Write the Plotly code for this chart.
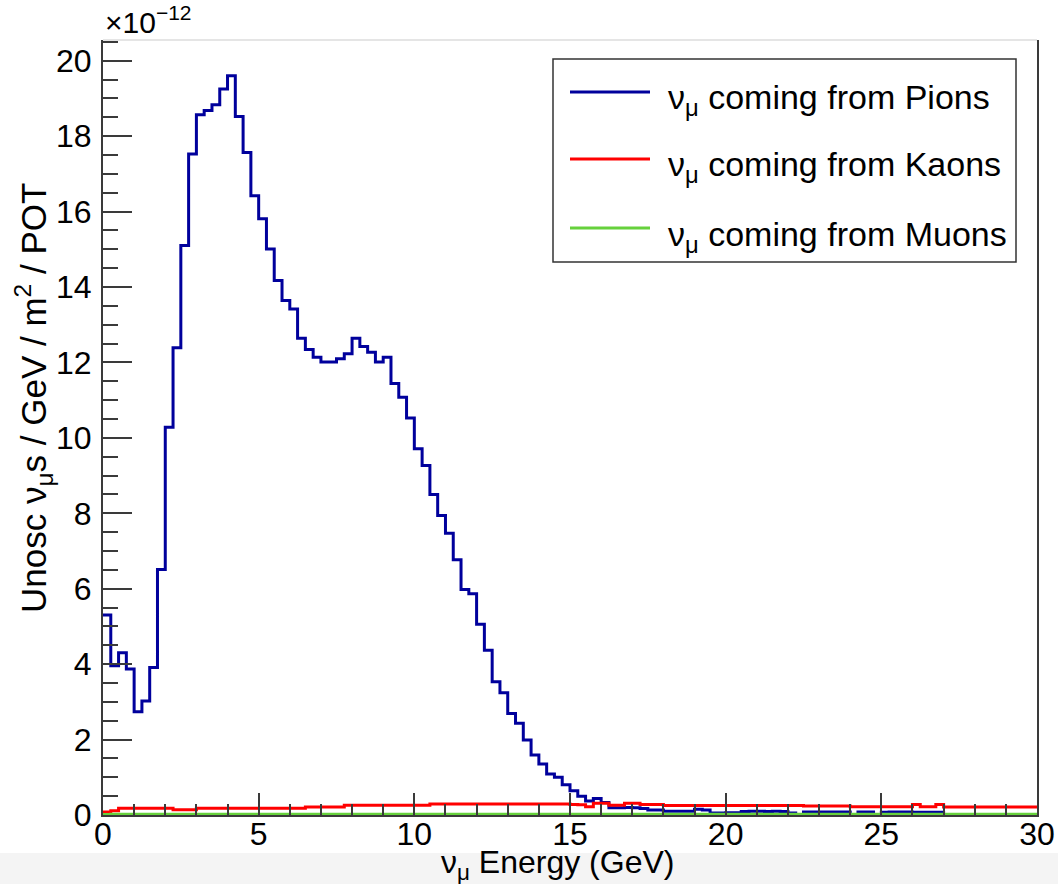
import plotly.graph_objects as go

# ---------------- data ----------------
bin_width = 0.25
n_bins = 120
bin_edges = [i * bin_width for i in range(n_bins + 1)]

pions = [
    5.30, 3.96, 4.30, 3.87, 2.74, 3.02, 3.91, 6.51, 10.28, 12.39,
    15.10, 17.53, 18.57, 18.68, 18.83, 19.25, 19.60, 18.52, 17.57, 16.42,
    15.81, 15.01, 14.17, 13.64, 13.42, 12.64, 12.34, 12.14, 12.01, 12.01,
    12.10, 12.23, 12.64, 12.42, 12.27, 12.01, 12.14, 11.44, 11.08, 10.53,
    9.71, 9.27, 8.50, 7.94, 7.47, 6.77, 5.98, 5.87, 5.06, 4.37,
    3.53, 3.24, 2.69, 2.43, 1.99, 1.59, 1.35, 1.09, 1.00, 0.80,
    0.64, 0.50, 0.37, 0.44, 0.33, 0.19, 0.19, 0.20, 0.19, 0.17,
    0.13, 0.13, 0.10, 0.10, 0.10, 0.10, 0.15, 0.13, 0.05, 0.05,
    0.06, 0.06, 0.09, 0.10, 0.10, 0.09, 0.10, 0.09, 0.05, 0.00,
    0.08, 0.08, 0.08, 0.08, 0.08, 0.08, 0.00, 0.08, 0.08, 0.00,
    0.07, 0.08, 0.08, 0.08, 0.07, 0.07, 0.07, 0.07, 0.00, 0.00,
    0.00, 0.00, 0.00, 0.00, 0.00, 0.00, 0.00, 0.00, 0.00, 0.00,
]

kaons = [
    0.08, 0.11, 0.18, 0.18, 0.18, 0.18, 0.18, 0.18, 0.18, 0.14,
    0.14, 0.14, 0.18, 0.18, 0.18, 0.18, 0.18, 0.18, 0.18, 0.18,
    0.18, 0.18, 0.18, 0.18, 0.18, 0.18, 0.21, 0.21, 0.21, 0.21,
    0.21, 0.26, 0.26, 0.26, 0.26, 0.26, 0.26, 0.26, 0.26, 0.26,
    0.26, 0.26, 0.29, 0.29, 0.29, 0.29, 0.29, 0.29, 0.29, 0.29,
    0.29, 0.29, 0.29, 0.29, 0.29, 0.29, 0.29, 0.29, 0.29, 0.29,
    0.28, 0.27, 0.22, 0.31, 0.31, 0.26, 0.26, 0.31, 0.31, 0.28,
    0.28, 0.28, 0.25, 0.25, 0.25, 0.25, 0.25, 0.25, 0.25, 0.25,
    0.25, 0.25, 0.25, 0.25, 0.25, 0.25, 0.25, 0.25, 0.25, 0.25,
    0.24, 0.24, 0.24, 0.24, 0.24, 0.24, 0.22, 0.22, 0.22, 0.22,
    0.22, 0.22, 0.22, 0.22, 0.28, 0.22, 0.22, 0.28, 0.21, 0.21,
    0.21, 0.21, 0.21, 0.21, 0.21, 0.21, 0.21, 0.21, 0.21, 0.21,
]

muons = [
    0.01, 0.02, 0.02, 0.02, 0.02, 0.02, 0.02, 0.02, 0.02, 0.02,
    0.02, 0.02, 0.02, 0.02, 0.02, 0.02, 0.02, 0.02, 0.02, 0.02,
    0.02, 0.02, 0.02, 0.02, 0.02, 0.02, 0.02, 0.02, 0.02, 0.02,
    0.02, 0.02, 0.02, 0.02, 0.02, 0.02, 0.02, 0.02, 0.02, 0.02,
    0.02, 0.02, 0.02, 0.02, 0.02, 0.02, 0.02, 0.02, 0.02, 0.02,
    0.02, 0.02, 0.02, 0.02, 0.02, 0.02, 0.02, 0.02, 0.02, 0.02,
    0.02, 0.02, 0.02, 0.02, 0.02, 0.02, 0.02, 0.02, 0.02, 0.02,
    0.02, 0.02, 0.02, 0.02, 0.02, 0.02, 0.02, 0.02, 0.02, 0.02,
    0.02, 0.02, 0.02, 0.02, 0.02, 0.02, 0.02, 0.02, 0.02, 0.02,
    0.02, 0.02, 0.02, 0.02, 0.02, 0.02, 0.02, 0.02, 0.02, 0.02,
    0.02, 0.02, 0.02, 0.02, 0.02, 0.02, 0.02, 0.02, 0.02, 0.02,
    0.02, 0.02, 0.02, 0.02, 0.02, 0.02, 0.02, 0.02, 0.02, 0.02,
]

series_names = [
    "ν<sub>μ</sub> coming from Pions",
    "ν<sub>μ</sub> coming from Kaons",
    "ν<sub>μ</sub> coming from Muons",
]
series_colors = ["#00009c", "#ff0000", "#66d13c"]
series_values = [pions, kaons, muons]

x_title = "ν<sub>μ</sub> Energy (GeV)"
y_title = "Unosc ν<sub>μ</sub>s / GeV / m<sup>2</sup> / POT"
exponent_label = "×10<sup>−12</sup>"

FONT = "Liberation Sans, Arial, Helvetica, sans-serif"

# ---------------- figure ----------------
W, H = 1058, 884
L, R, T, B = 103, 21, 40, 69
pw, ph = W - L - R, H - T - B


def px_x(p):
    return (p - L) / pw


def px_y(p):
    return (H - B - p) / ph


fig = go.Figure()
for name, color, vals in zip(series_names, series_colors, series_values):
    fig.add_trace(go.Scatter(
        x=bin_edges,
        y=vals + [vals[-1]],
        mode="lines",
        line=dict(color=color, width=3, shape="hv"),
        name=name,
        showlegend=False,
        hoverinfo="skip",
    ))

axis_color = "#3a3a3a"
fig.update_layout(
    width=W, height=H,
    margin=dict(l=L, r=R, t=T, b=B, autoexpand=False),
    paper_bgcolor="white",
    plot_bgcolor="white",
    font=dict(family=FONT, color="black", size=32),
    xaxis=dict(
        range=[0, 30],
        tickvals=[0, 5, 10, 15, 20, 25, 30],
        ticks="inside", ticklen=22, tickwidth=1.5, tickcolor=axis_color,
        minor=dict(dtick=1, ticks="inside", ticklen=11, tickwidth=1.5, tickcolor=axis_color),
        showline=True, linecolor=axis_color, linewidth=2, mirror=False,
        showgrid=False, zeroline=False,
        tickfont=dict(size=32),
        ticklabelstandoff=-10,
        automargin=False,
    ),
    yaxis=dict(
        range=[0, 20.55],
        tickvals=[0, 2, 4, 6, 8, 10, 12, 14, 16, 18, 20],
        ticks="inside", ticklen=29, tickwidth=1.5, tickcolor=axis_color,
        minor=dict(dtick=0.5, ticks="inside", ticklen=15, tickwidth=1.5, tickcolor=axis_color),
        showline=True, linecolor=axis_color, linewidth=2, mirror=True,
        showgrid=False, zeroline=False,
        tickfont=dict(size=32),
        ticklabelstandoff=3,
        automargin=False,
    ),
)

shapes = []
# faint top frame line
shapes.append(dict(type="line", xref="paper", yref="paper", x0=0, x1=1, y0=1, y1=1,
                   line=dict(color="#dcdcdc", width=1.5)))
# light grey band at the very bottom of the picture
shapes.append(dict(type="rect", xref="paper", yref="paper", layer="below",
                   x0=px_x(0), x1=px_x(W), y0=px_y(H), y1=px_y(853),
                   fillcolor="#f4f4f4", line=dict(width=0)))

# legend box (ROOT TLegend style)
lx0, lx1, ly0, ly1 = 553, 1016, 59, 262
shapes.append(dict(type="rect", xref="paper", yref="paper",
                   x0=px_x(lx0), x1=px_x(lx1), y0=px_y(ly1), y1=px_y(ly0),
                   fillcolor="white", line=dict(color="#333333", width=1.5)))
entry_y = [92, 159, 228]
annotations = []
for name, color, ey in zip(series_names, series_colors, entry_y):
    shapes.append(dict(type="line", xref="paper", yref="paper",
                       x0=px_x(570), x1=px_x(650), y0=px_y(ey), y1=px_y(ey),
                       line=dict(color=color, width=3)))
    annotations.append(dict(xref="paper", yref="paper", x=px_x(666), y=px_y(ey + 8),
                            text=name, showarrow=False, xanchor="left", yanchor="middle",
                            font=dict(size=34, family=FONT, color="black")))

# multiplier of the y axis
annotations.append(dict(xref="paper", yref="paper", x=px_x(103), y=px_y(20),
                        text=exponent_label, showarrow=False, xanchor="left", yanchor="middle",
                        font=dict(size=30, family=FONT, color="black")))
# axis titles
annotations.append(dict(xref="paper", yref="paper", x=px_x(557), y=px_y(864),
                        text=x_title, showarrow=False, xanchor="center", yanchor="middle",
                        font=dict(size=32, family=FONT, color="black")))
annotations.append(dict(xref="paper", yref="paper", x=px_x(33), y=px_y(398),
                        text=y_title, showarrow=False, xanchor="center", yanchor="middle",
                        textangle=-90,
                        font=dict(size=35, family=FONT, color="black")))

fig.update_layout(shapes=shapes, annotations=annotations)
fig.write_html("out.html")
